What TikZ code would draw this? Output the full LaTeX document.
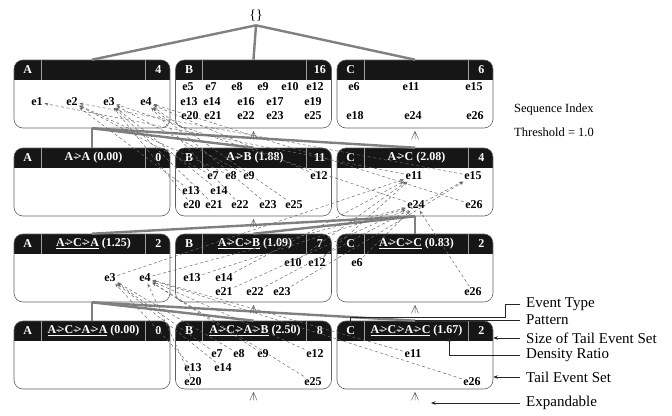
\documentclass[tikz,border=0pt]{standalone}
\usepackage{fontspec}
\setmainfont{Liberation Serif}
\usetikzlibrary{arrows.meta,calc}
\definecolor{hdblack}{RGB}{22,22,22}
\definecolor{treegray}{RGB}{128,128,128}
\definecolor{boxgray}{RGB}{95,95,95}
\definecolor{linkgray}{RGB}{105,105,105}
\newcommand{\seqto}{-\kern-0.2em>}

\begin{document}
\begin{tikzpicture}[
  x=1pt, y=-1pt,
  every node/.style={font=\fontsize{12}{13}\selectfont\bfseries},
  seqbox/.style={draw=boxgray,line width=0.6pt,rounded corners=9pt,
                 minimum width=156pt,minimum height=68pt,inner sep=0pt,
    path picture={
      \fill[hdblack,sharp corners] (path picture bounding box.north west)
        rectangle ([yshift=-20pt]path picture bounding box.north east);
      \draw[gray!75,line width=0.5pt,sharp corners]
        ([xshift=27pt]path picture bounding box.north west) -- ++(0pt,-20pt);
      \draw[gray!75,line width=0.5pt,sharp corners]
        ([xshift=-25pt]path picture bounding box.north east) -- ++(0pt,-20pt);
    }},
  hdtext/.style={text=white,inner sep=1pt,font=\fontsize{12}{13}\selectfont\bfseries},
  ev/.style={inner sep=1.5pt},
  treeline/.style={draw=treegray,line width=2.4pt},
  seqlink/.style={draw=linkgray,line width=0.5pt,dash pattern=on 3pt off 2.5pt,
                  -{Stealth[length=4pt,width=3pt]}},
  expmark/.style={draw=gray!80!black,line width=0.5pt},
  callout/.style={draw=black!85,line width=0.5pt,-{Stealth[length=4.5pt,width=3.5pt]}},
  note/.style={anchor=west,inner sep=1pt,font=\fontsize{12.5}{14}\selectfont},
  legend/.style={anchor=west,inner xsep=6pt,inner ysep=1pt,font=\fontsize{15}{16}\selectfont},
]
  \useasboundingbox (0,0) rectangle (672,415);

  % Root
  \node[font=\fontsize{14}{15}\selectfont] (root) at (256,16) {\{\}};

  % Boxes
  \foreach \r/\y in {1/94,2/182,3/268,4/355}
    \foreach \c/\x in {a/92,b/253.5,c/415}
      \node[seqbox] (r\r\c) at (\x,\y) {};

  % Tree
  \draw[treeline] (root.south) -- (r1a.north);
  \draw[treeline] (root.south) -- (r1b.north);
  \draw[treeline] (root.south) -- (r1c.north);
  \foreach \p/\q in {r1a/2,r2c/3,r3a/4}
    \foreach \c in {a,b,c}
      \draw[treeline] (\p.south) -- (r\q\c.north);

  % Headers
  \foreach \b/\t/\p/\n in {
      r1a/A//4, r1b/B//16, r1c/C//6,
      r2a/A/{A\seqto A (0.00)}/0, r2b/B/{A\seqto B (1.88)}/11, r2c/C/{A\seqto C (2.08)}/4,
      r3a/A/{\underline{A\seqto C\seqto A} (1.25)}/2,
      r3b/B/{\underline{A\seqto C\seqto B} (1.09)}/7,
      r3c/C/{\underline{A\seqto C\seqto C} (0.83)}/2,
      r4a/A/{\underline{A\seqto C\seqto A\seqto A} (0.00)}/0,
      r4b/B/{\underline{A\seqto C\seqto A\seqto B} (2.50)}/8,
      r4c/C/{\underline{A\seqto C\seqto A\seqto C} (1.67)}/2} {
    \node[hdtext] (\b-type) at ([xshift=14pt,yshift=-10pt]\b.north west) {\t};
    \node[hdtext] (\b-pat) at ([xshift=1.5pt,yshift=-10pt]\b.north) {\p};
    \node[hdtext] (\b-cnt) at ([xshift=-12pt,yshift=-10pt]\b.north east) {\n};
  }

  % Tail event sets
  \foreach \b/\n/\x/\y in {
      r1a/e1/37/102, r1a/e2/72/102, r1a/e3/109/102, r1a/e4/146/102,
      r1b/e5/188/87, r1b/e7/211/87, r1b/e8/237/87, r1b/e9/263/87, r1b/e10/290/87, r1b/e12/315/87,
      r1b/e13/189/102, r1b/e14/212/102, r1b/e16/246/102, r1b/e17/275/102, r1b/e19/313/102,
      r1b/e20/190/116, r1b/e21/213/116, r1b/e22/246/116, r1b/e23/275/116, r1b/e25/313/116,
      r1c/e6/354/87, r1c/e11/411/87, r1c/e15/474/87,
      r1c/e18/355/116, r1c/e24/413/116, r1c/e26/475/116,
      r2b/e7/213/176, r2b/e8/231/176, r2b/e9/249/176, r2b/e12/319/176,
      r2b/e13/191/191, r2b/e14/219/191,
      r2b/e20/192/205, r2b/e21/214/205, r2b/e22/240/205, r2b/e23/268/205, r2b/e25/294/205,
      r2c/e11/414/176, r2c/e15/473/176, r2c/e24/416/205, r2c/e26/474/205,
      r3a/e3/110/278, r3a/e4/145/278,
      r3b/e10/293/263, r3b/e12/317/263, r3b/e13/192/278, r3b/e14/224/278,
      r3b/e21/224/292, r3b/e22/255/292, r3b/e23/282/292,
      r3c/e6/357/263, r3c/e26/473/292,
      r4b/e7/217/354, r4b/e8/239/354, r4b/e9/263/354, r4b/e12/315/354,
      r4b/e13/193/368, r4b/e14/223/368, r4b/e20/193/382, r4b/e25/313/382,
      r4c/e11/413/354, r4c/e26/472/382}
    \node[ev] (\b-\n) at (\x,\y) {\n};

  % Sequence index links
  \foreach \s/\t in {
      r2b-e7/r1a-e2, r2b-e8/r1a-e2, r2b-e9/r1a-e3, r2b-e12/r1a-e4, r2b-e13/r1a-e2,
      r2b-e14/r1a-e3, r2b-e20/r1a-e3, r2b-e21/r1a-e3, r2b-e22/r1a-e4, r2b-e23/r1a-e4,
      r2b-e25/r1a-e4, r2c-e11/r1a-e1, r2c-e15/r1a-e2, r2c-e24/r1a-e3, r2c-e26/r1a-e4,
      r3a-e3/r2c-e11, r3a-e4/r2c-e24, r3b-e10/r2c-e11, r3b-e12/r2c-e11, r3b-e13/r2c-e24,
      r3b-e14/r2c-e11, r3b-e21/r2c-e24, r3b-e22/r2c-e15, r3b-e23/r2c-e15,
      r3c-e6/r2c-e24, r3c-e26/r2c-e24,
      r4b-e7/r3a-e3, r4b-e8/r3a-e3, r4b-e9/r3a-e4, r4b-e12/r3a-e4, r4b-e13/r3a-e3,
      r4b-e14/r3a-e3, r4b-e20/r3a-e4, r4b-e25/r3a-e4, r4c-e11/r3a-e4, r4c-e26/r3a-e4}
    \draw[seqlink] (\s) -- (\t);

  % Expandable marks
  \foreach \b in {r1b,r1c,r2b,r3b,r3c,r4b,r4c} {
    \coordinate (\b-exp) at ([yshift=-3pt]\b.south);
    \draw[expmark] (\b-exp) -- ++(-3.5,8) (\b-exp) -- ++(3.5,8) (\b-exp) -- ++(0,8);
  }

  % Notes
  \node[note] (seqidx) at (513,109) {Sequence Index};
  \node[note] (thresh) at (513,132) {Threshold = 1.0};

  % Legend
  \node[legend] (lgtype) at (520,304) {Event Type};
  \node[legend] (lgpat) at (520,320) {Pattern};
  \node[legend] (lgsize) at (520,338) {Size of Tail Event Set};
  \node[legend] (lgdens) at (520,355) {Density Ratio};
  \node[legend] (lgtail) at (520,377) {Tail Event Set};
  \node[legend] (lgexp) at (520,403) {Expandable};
  \coordinate (r4c-ratio) at ([xshift=33pt]r4c-pat.south);
  \coordinate (r4c-expr) at ([xshift=16pt]r4c-exp);

  \draw[callout] (lgtype.west) -- ++(-15,0) |- ([yshift=8pt]r4c-type.north) -- (r4c-type.north);
  \draw[callout] (lgpat.west) -| (r4c-pat.north);
  \draw[callout] (lgsize.west) -- (lgsize.west -| r4c.east);
  \draw[callout] (lgdens.west) -| (r4c-ratio);
  \draw[callout] (lgtail.west) -- (lgtail.west -| r4c.east);
  \draw[callout] (lgexp.west) -- (lgexp.west -| r4c-expr);
\end{tikzpicture}
\end{document}
